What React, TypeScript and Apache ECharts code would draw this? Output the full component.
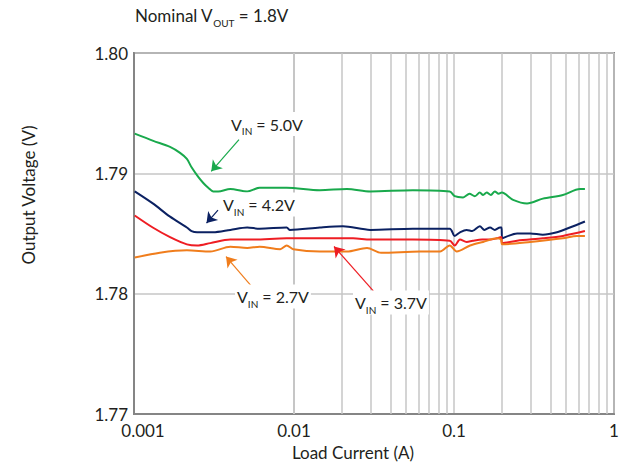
import React, { useEffect, useRef } from "react";
import * as echarts from "echarts";

// ---------- data ----------
const xTickLabels = ["0.001", "0.01", "0.1", "1"];
const minorGridX = [
  0.002, 0.003, 0.004, 0.005, 0.006, 0.007, 0.008, 0.009,
  0.02, 0.03, 0.04, 0.05, 0.06, 0.07, 0.08, 0.09,
  0.2, 0.3, 0.4, 0.5, 0.6, 0.7, 0.8, 0.9,
];

const vin50X = [0.00101, 0.00132, 0.00168, 0.00194, 0.00214, 0.00229, 0.00252, 0.00271, 0.00291, 0.00313, 0.00336, 0.004, 0.0051, 0.0061, 0.009, 0.0145, 0.0214, 0.03, 0.0554, 0.094, 0.101, 0.114, 0.125, 0.135, 0.145, 0.152, 0.16, 0.17, 0.18, 0.19, 0.199, 0.234, 0.286, 0.359, 0.479, 0.613, 0.658];
const vin50Y = [1.7933, 1.7927, 1.7922, 1.7917, 1.7912, 1.7905, 1.7897, 1.7892, 1.7888, 1.7885, 1.7885, 1.7887, 1.7885, 1.7888, 1.7888, 1.7886, 1.7887, 1.7885, 1.7886, 1.7885, 1.7881, 1.788, 1.7883, 1.7881, 1.7884, 1.7882, 1.7884, 1.7882, 1.7885, 1.7883, 1.7884, 1.7878, 1.7875, 1.7879, 1.7882, 1.7887, 1.7887];

const vin42X = [0.00101, 0.00131, 0.00168, 0.00214, 0.00229, 0.00248, 0.00312, 0.004, 0.0051, 0.0061, 0.009, 0.0094, 0.0145, 0.0202, 0.03, 0.0554, 0.094, 0.101, 0.109, 0.12, 0.13, 0.145, 0.155, 0.168, 0.18, 0.194, 0.198, 0.2, 0.248, 0.3, 0.359, 0.44, 0.53, 0.658];
const vin42Y = [1.7885, 1.7875, 1.7864, 1.7855, 1.7852, 1.7851, 1.7851, 1.7853, 1.7855, 1.7854, 1.7855, 1.7853, 1.7855, 1.7856, 1.7853, 1.7854, 1.7854, 1.7848, 1.7851, 1.7853, 1.7852, 1.7856, 1.7853, 1.7855, 1.7853, 1.7855, 1.7855, 1.7846, 1.785, 1.785, 1.7849, 1.7851, 1.7855, 1.786];

const vin37X = [0.00101, 0.00131, 0.00168, 0.00214, 0.00248, 0.003, 0.004, 0.0055, 0.009, 0.0145, 0.0234, 0.03, 0.0554, 0.094, 0.101, 0.109, 0.12, 0.131, 0.15, 0.168, 0.185, 0.197, 0.2, 0.248, 0.359, 0.479, 0.658];
const vin37Y = [1.7865, 1.7855, 1.7847, 1.7841, 1.784, 1.7842, 1.7845, 1.7845, 1.7846, 1.7846, 1.7846, 1.7845, 1.7845, 1.7844, 1.784, 1.7845, 1.7843, 1.7844, 1.7845, 1.7845, 1.7846, 1.7847, 1.7842, 1.7844, 1.7846, 1.7848, 1.7852];

const vin27X = [0.00101, 0.00145, 0.00214, 0.003, 0.004, 0.0051, 0.0061, 0.0082, 0.009, 0.0099, 0.0145, 0.0214, 0.0286, 0.035, 0.0613, 0.0818, 0.094, 0.104, 0.126, 0.152, 0.186, 0.197, 0.2, 0.3, 0.479, 0.587, 0.658];
const vin27Y = [1.783, 1.7834, 1.7836, 1.7835, 1.7839, 1.7838, 1.7839, 1.7837, 1.784, 1.7837, 1.7835, 1.7835, 1.7838, 1.7834, 1.7835, 1.7835, 1.784, 1.7835, 1.784, 1.7843, 1.7846, 1.7845, 1.7841, 1.7843, 1.7846, 1.7848, 1.7848];

// annotation arrows: [tail, head] in data units
const arrow50 = [[0.00453, 1.7928], [0.00304, 1.79017]];
const arrow42 = [[0.00335, 1.78695], [0.00284, 1.78587]];
const arrow27 = [[0.00557, 1.78044], [0.00376, 1.78308]];
const arrow37 = [[0.0313, 1.78024], [0.01778, 1.78392]];

const annotValues = ["5.0V", "4.2V", "2.7V", "3.7V"];

const FONT = "Lato, 'Noto Sans', sans-serif";
const TXT = "#231f20";
const GREEN = "#19a94c";
const NAVY = "#0b2162";
const RED = "#ee1d23";
const ORANGE = "#f07d1c";

export default function App() {
  const ref = useRef<HTMLDivElement>(null);

  useEffect(() => {
    const chart = echarts.init(ref.current!, null, { renderer: "svg" });
    const zip = (xs: number[], ys: number[]) => xs.map((x, i) => [x, ys[i]]);

    const lineSeries = (name: string, color: string, xs: number[], ys: number[], arrow: number[][]) => ({
      type: "line",
      name,
      data: zip(xs, ys),
      showSymbol: false,
      symbol: "none",
      smooth: 0.3,
      silent: true,
      z: 3,
      lineStyle: { color, width: 2 },
      itemStyle: { color },
      markLine: {
        silent: true,
        z: 6,
        symbol: ["none", "arrow"],
        symbolSize: 10,
        label: { show: false },
        lineStyle: { color, width: 1.2, type: "solid" },
        data: [[{ coord: arrow[0] }, { coord: arrow[1] }]],
      },
    });

    const vinRich = {
      v: { fontSize: 16, fontFamily: FONT, lineHeight: 24, fill: TXT },
      s: { fontSize: 10, fontFamily: FONT, verticalAlign: "bottom", fill: TXT },
    };

    const annot = (label: string, x: number, y: number) => ({
      type: "text",
      x: x - 2,
      y,
      z: 20,
      silent: true,
      style: {
        text: `{v|V}{s|IN}{v| = ${label}}`,
        rich: vinRich,
        fill: TXT,
        fontSize: 16,
        fontFamily: FONT,
        align: "left",
        verticalAlign: "middle",
        backgroundColor: "#ffffff",
        padding: [0, 2, 0, 2],
      },
    });

    chart.setOption({
      animation: false,
      grid: {
        left: 134,
        top: 53,
        width: 480,
        height: 361,
        show: true,
        borderColor: "#858585",
        borderWidth: 2,
        backgroundColor: "transparent",
      },
      xAxis: {
        type: "log",
        logBase: 10,
        min: 0.001,
        max: 1,
        axisLine: { show: true, lineStyle: { color: "#858585", width: 2 } },
        axisTick: { show: false },
        splitLine: { show: true, lineStyle: { color: "#c6c6c6", width: 1.5 } },
        axisLabel: {
          color: TXT,
          fontSize: 17,
          fontFamily: FONT,
          margin: 8,
          formatter: (v: number) => {
            const i = Math.round(Math.log10(v)) + 3;
            const t = xTickLabels[i] ?? "";
            return i === 0 ? `{p|${t}}` : t;
          },
          rich: {
            p: { fontSize: 17, fontFamily: FONT, color: TXT, padding: [0, 0, 0, 18] },
          },
        },
      },
      yAxis: {
        type: "value",
        min: 1.77,
        max: 1.8,
        interval: 0.01,
        axisLine: { show: true, lineStyle: { color: "#858585", width: 2 } },
        axisTick: { show: false },
        splitLine: { show: true, lineStyle: { color: "#c6c6c6", width: 1.5 } },
        axisLabel: {
          color: TXT,
          fontSize: 17,
          fontFamily: FONT,
          margin: 6,
          formatter: (v: number) => v.toFixed(2),
        },
      },
      series: [
        {
          type: "line",
          name: "grid",
          data: [[0.001, 1.77]],
          showSymbol: false,
          symbol: "none",
          silent: true,
          z: 1,
          lineStyle: { width: 0 },
          markLine: {
            silent: true,
            z: 1,
            symbol: ["none", "none"],
            label: { show: false },
            lineStyle: { color: "#c6c6c6", width: 1.5, type: "solid" },
            data: minorGridX.map((v) => ({ xAxis: v })),
          },
        },
        lineSeries("VIN = 5.0V", GREEN, vin50X, vin50Y, arrow50),
        lineSeries("VIN = 4.2V", NAVY, vin42X, vin42Y, arrow42),
        lineSeries("VIN = 3.7V", RED, vin37X, vin37Y, arrow37),
        lineSeries("VIN = 2.7V", ORANGE, vin27X, vin27Y, arrow27),
      ],
      graphic: [
        {
          type: "text",
          x: 135,
          y: 15,
          silent: true,
          style: {
            text: "{v|Nominal V}{s|OUT}{v| = 1.8V}",
            rich: {
              v: { fontSize: 17, fontFamily: FONT, lineHeight: 26, fill: TXT },
              s: { fontSize: 10, fontFamily: FONT, verticalAlign: "bottom", fill: TXT },
            },
            fontSize: 17,
            fontFamily: FONT,
            fill: TXT,
            align: "left",
            verticalAlign: "middle",
          },
        },
        {
          type: "text",
          x: 353,
          y: 452,
          silent: true,
          style: {
            text: "Load Current (A)",
            fontSize: 17,
            fontFamily: FONT,
            fill: TXT,
            align: "center",
            verticalAlign: "middle",
          },
        },
        {
          type: "text",
          x: 28,
          y: 195,
          rotation: Math.PI / 2,
          silent: true,
          style: {
            text: "Output Voltage (V)",
            fontSize: 17,
            fontFamily: FONT,
            fill: TXT,
            align: "center",
            verticalAlign: "middle",
          },
        },
        annot(annotValues[0], 231, 124),
        annot(annotValues[1], 223, 204.5),
        annot(annotValues[2], 237, 296.5),
        annot(annotValues[3], 355, 302.5),
      ],
    });

    return () => chart.dispose();
  }, []);

  return (
    <div
      ref={ref}
      style={{ position: "fixed", left: 0, top: 0, width: 630, height: 465, background: "#fff" }}
    />
  );
}
